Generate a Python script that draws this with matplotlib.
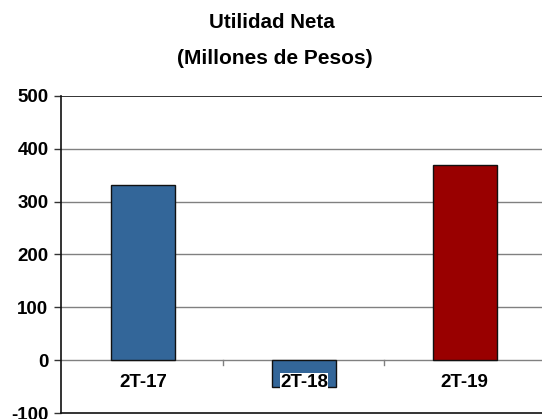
import matplotlib
matplotlib.use("Agg")
import matplotlib.pyplot as plt

categories = ["2T-17", "2T-18", "2T-19"]
values = [332, -51, 370]
colors = ["#336699", "#336699", "#990000"]
yticks = [-100, 0, 100, 200, 300, 400, 500]

plt.rcParams['font.family'] = ['Liberation Sans', 'DejaVu Sans']

fig = plt.figure(figsize=(5.42, 4.19), dpi=100)
ax = fig.add_axes([61/542, 6/419, 1 - 61/542, (413-96)/419])

x = list(range(len(categories)))
ax.bar(x, values, width=0.40, color=colors, edgecolor="#111111", linewidth=1.0, zorder=3)

ax.set_ylim(-100, 500)
ax.set_xlim(-0.51, 2.48)
ax.set_yticks(yticks)
ax.set_yticklabels([str(v) for v in yticks], fontsize=13.5, fontweight='bold')
for v in yticks[1:-1]:
    ax.axhline(v, color="#808080", linewidth=1.0, zorder=1)
ax.axhline(500, color="#111111", linewidth=1.2, zorder=2)

ax.set_xticks([])
for b in [0.5, 1.5]:
    ax.plot([b, b], [0, -9], color="#808080", linewidth=1.0, zorder=2, clip_on=False)

for xi, lab in zip(x, categories):
    ax.text(xi, -42, lab, ha='center', va='center', fontsize=13.5, fontweight='bold',
            bbox=dict(facecolor='white', edgecolor='none', pad=0.3), zorder=4)

ax.tick_params(axis='y', length=5, width=1, color="#333333", pad=4)
for s in ['top', 'right']:
    ax.spines[s].set_visible(False)
ax.spines['left'].set_color("#111111")
ax.spines['bottom'].set_color("#111111")
ax.spines['left'].set_linewidth(1.2)
ax.spines['bottom'].set_linewidth(1.2)

fig.text(272/542, 1 - 28/419, "Utilidad Neta", ha='center', va='baseline', fontsize=14.8, fontweight='bold')
fig.text(275/542, 1 - 64/419, "(Millones de Pesos)", ha='center', va='baseline', fontsize=15, fontweight='bold')

fig.savefig("out.png", dpi=100)
